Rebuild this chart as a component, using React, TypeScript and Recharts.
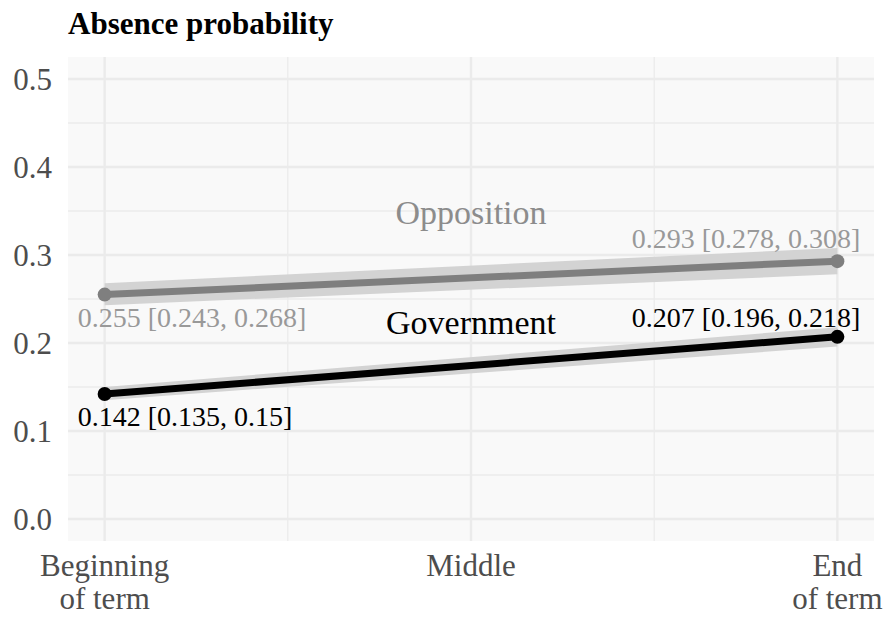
import React from 'react';
import {
  Area,
  CartesianGrid,
  ComposedChart,
  LabelList,
  Line,
  ReferenceDot,
  XAxis,
  YAxis,
} from 'recharts';

const FONT = '"Liberation Serif", "Times New Roman", serif';

// term position: 0 = beginning, 2 = end
const stagePos = [0, 2];
const oppMean = [0.255, 0.293];
const oppLow = [0.243, 0.278];
const oppHigh = [0.268, 0.308];
const govMean = [0.142, 0.207];
const govLow = [0.135, 0.196];
const govHigh = [0.15, 0.218];

const xTicks = [0, 1, 2];
const xTickLabels = [['Beginning', 'of term'], ['Middle'], ['End', 'of term']];
const xMinor = [0.5, 1.5];
const yTicks = [0, 0.1, 0.2, 0.3, 0.4, 0.5];
const yMinor = [0.05, 0.15, 0.25, 0.35, 0.45];

const data = stagePos.map((pos, i) => ({
  pos,
  opp: oppMean[i],
  oppBand: [oppLow[i], oppHigh[i]],
  oppLabel: `${oppMean[i]} [${oppLow[i]}, ${oppHigh[i]}]`,
  gov: govMean[i],
  govBand: [govLow[i], govHigh[i]],
  govLabel: `${govMean[i]} [${govLow[i]}, ${govHigh[i]}]`,
}));

const XTick = ({ x, y, payload }: any) => {
  const lines = xTickLabels[xTicks.indexOf(payload.value)] || [];
  return (
    <g>
      {lines.map((line, i) => (
        <text
          key={line}
          x={x}
          y={y + 27 + i * 33}
          textAnchor="middle"
          fill="#4d4d4d"
          fontSize={31}
          fontFamily={FONT}
        >
          {line}
        </text>
      ))}
    </g>
  );
};

const YTick = ({ x, y, payload }: any) => (
  <text x={x} y={y} dy="0.355em" textAnchor="end" fill="#4d4d4d" fontSize={31} fontFamily={FONT}>
    {payload.value.toFixed(1)}
  </text>
);

const makePointLabel = (color: string, aboveOffset: number) => (props: any) => {
  const { x, y, value, index } = props;
  const first = index === 0;
  return (
    <text
      x={first ? x - 27 : x + 23}
      y={first ? y + 32 : y + aboveOffset}
      textAnchor={first ? 'start' : 'end'}
      fill={color}
      fontSize={28}
      fontFamily={FONT}
    >
      {value}
    </text>
  );
};

export default function App() {
  return (
    <div style={{ position: 'absolute', left: 0, top: 0, width: 885, height: 619, background: '#fff' }}>
      <div
        style={{
          position: 'absolute',
          left: 68,
          top: 8,
          fontFamily: FONT,
          fontWeight: 'bold',
          fontSize: 31,
          lineHeight: '31px',
          color: '#000',
        }}
      >
        Absence probability
      </div>
      <ComposedChart width={885} height={619} data={data} margin={{ top: 57, right: 11, bottom: 0, left: 0 }}>
        <CartesianGrid
          fill="#f9f9f9"
          stroke="#ebebeb"
          strokeWidth={1.3}
          horizontalValues={yMinor}
          verticalValues={xMinor}
        />
        <CartesianGrid
          stroke="#ebebeb"
          strokeWidth={2.4}
          horizontalValues={yTicks}
          verticalValues={xTicks}
        />
        <XAxis
          type="number"
          dataKey="pos"
          domain={[-0.1, 2.1]}
          ticks={xTicks}
          height={78}
          axisLine={false}
          tickLine={false}
          tick={<XTick />}
          interval={0}
        />
        <YAxis
          type="number"
          domain={[-0.025, 0.525]}
          ticks={yTicks}
          width={68}
          axisLine={false}
          tickLine={false}
          tickSize={0}
          tickMargin={16}
          tick={<YTick />}
          interval={0}
        />
        <Area
          dataKey="govBand"
          type="linear"
          fill="#d3d3d3"
          fillOpacity={1}
          stroke="none"
          isAnimationActive={false}
        />
        <Area
          dataKey="oppBand"
          type="linear"
          fill="#d3d3d3"
          fillOpacity={1}
          stroke="none"
          isAnimationActive={false}
        />
        <Line
          dataKey="opp"
          type="linear"
          stroke="#7f7f7f"
          strokeWidth={7}
          dot={{ r: 7, fill: '#7f7f7f', stroke: 'none' }}
          isAnimationActive={false}
        >
          <LabelList dataKey="oppLabel" content={makePointLabel('#999999', -13)} />
        </Line>
        <Line
          dataKey="gov"
          type="linear"
          stroke="#000000"
          strokeWidth={7}
          dot={{ r: 7, fill: '#000000', stroke: 'none' }}
          isAnimationActive={false}
        >
          <LabelList dataKey="govLabel" content={makePointLabel('#000000', -10)} />
        </Line>
        <ReferenceDot
          x={1}
          y={0.349}
          r={1}
          fill="none"
          stroke="none"
          label={{ value: 'Opposition', position: 'center', fill: '#8c8c8c', fontSize: 34, fontFamily: FONT }}
        />
        <ReferenceDot
          x={1}
          y={0.2235}
          r={1}
          fill="none"
          stroke="none"
          label={{ value: 'Government', position: 'center', fill: '#000000', fontSize: 34, fontFamily: FONT }}
        />
      </ComposedChart>
    </div>
  );
}
